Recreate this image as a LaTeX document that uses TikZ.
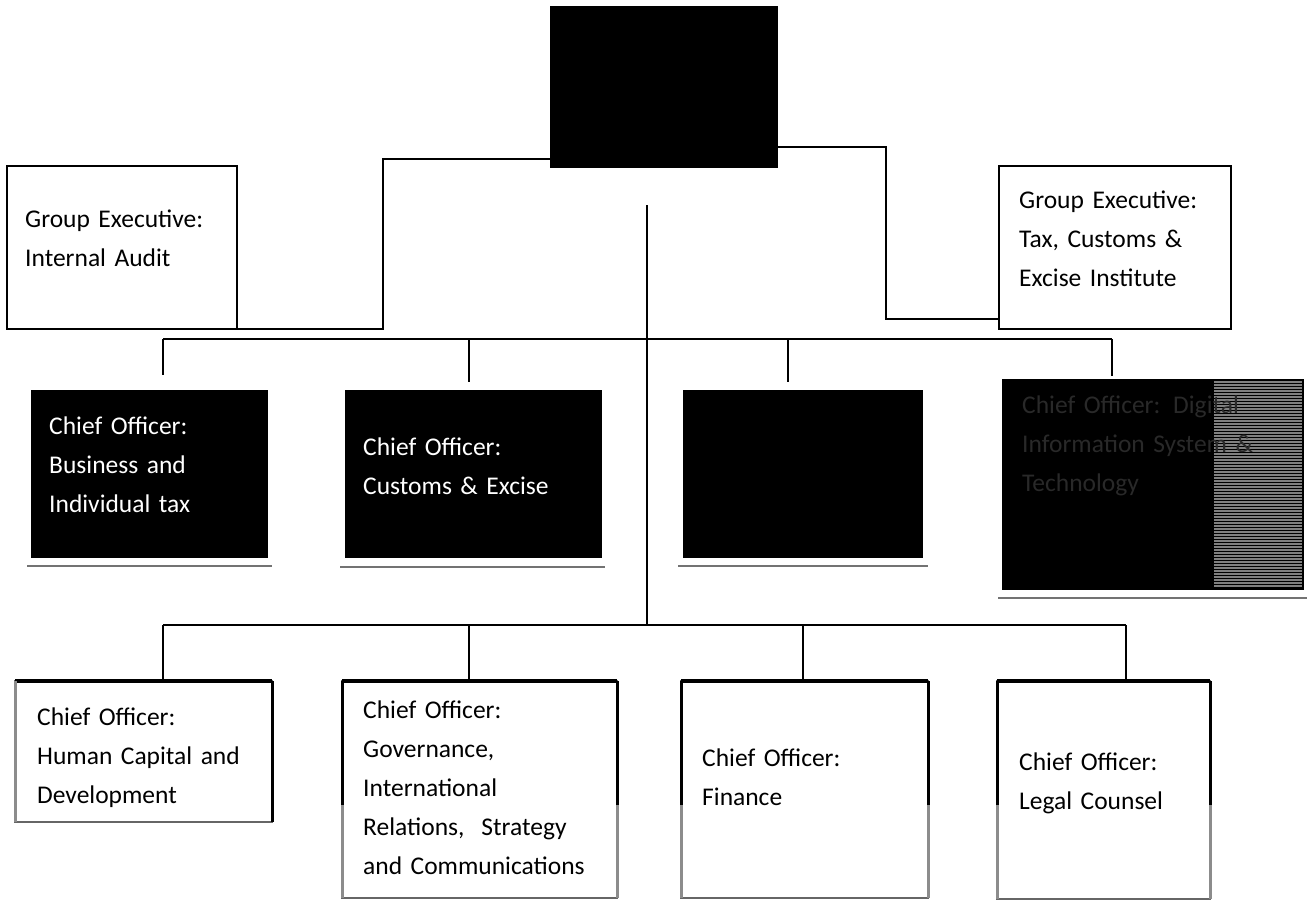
\documentclass[tikz,border=0pt]{standalone}
\usepackage{fontspec}
\setmainfont{Carlito}
\usetikzlibrary{calc}
\begin{document}
\begin{tikzpicture}[x=1pt,y=-1pt,
  box/.style={draw, line width=1.6pt, anchor=north west, inner sep=0pt, outer sep=0pt},
  blk/.style={box, fill=black},
  lbl/.style={anchor=base west, inner sep=0pt, align=left, text width=290pt, font=\fontsize{25.5}{39}\selectfont},
  wire/.style={line width=1.8pt},
  uline/.style={line width=1.4pt, black!55},
  thicktop/.style={line width=4pt},
  side/.style={line width=3pt},
  hatchside/.style={line width=3pt, black!45},
]
\useasboundingbox (0,0) rectangle (1308,900);

% top row
\node[blk, minimum width=226pt, minimum height=160pt] (top) at (551,7) {};
\node[box, minimum width=230pt, minimum height=163pt] (ia) at (7,166) {};
\node[box, minimum width=232pt, minimum height=163pt] (tax) at (999,166) {};
\node[lbl] (iat) at (25,227) {Group Executive:\\Internal Audit};
\node[lbl] (taxt) at (1019,208) {Group Executive:\\Tax, Customs \&\\Excise Institute};

% second row
\node[blk, minimum width=235pt, minimum height=166pt] (bit) at (32,391) {};
\node[blk, minimum width=255pt, minimum height=166pt] (cus) at (346,391) {};
\node[blk, minimum width=238pt, minimum height=166pt] (blank) at (684,391) {};
\node[blk, minimum width=300pt, minimum height=209pt] (dig) at (1003,380) {};
\foreach \yy in {382,385,...,587} \draw[black!50, line width=1.4pt] (1214,\yy) -- (1302,\yy);
\node[lbl, text=white] (bitt) at (49,434) {Chief Officer:\\Business and\\Individual tax};
\node[lbl, text=white] (cust) at (363,455) {Chief Officer:\\Customs \& Excise};
\node[lbl, text=black!84] (digt) at (1022,413) {Chief Officer: Digital\\Information System \&\\Technology};
\draw[uline] (27,566) -- (272,566);
\draw[uline] (340,567) -- (605,567);
\draw[uline] (678,566) -- (928,566);
\draw[uline] (998,598) -- (1307,598);

% bottom row
\node[box, draw=black!60, line width=1.4pt, minimum width=257pt, minimum height=141pt] (hum) at (15,681) {};
\node[box, draw=black!60, line width=1.4pt, minimum width=275pt, minimum height=217pt] (gov) at (342,681) {};
\node[box, draw=black!60, line width=1.4pt, minimum width=247pt, minimum height=217pt] (fin) at (681,681) {};
\node[box, draw=black!60, line width=1.4pt, minimum width=213pt, minimum height=218pt] (leg) at (997,681) {};
% heavy borders
\draw[thicktop] (hum.north west) -- (hum.north east);
\draw[hatchside] (hum.north west) -- (hum.south west);
\draw[side] (hum.north east) -- (hum.south east);
\foreach \b in {gov,fin,leg}{
  \draw[thicktop] (\b.north west) -- (\b.north east);
  \draw[side] (\b.north west) -- ++(0,124) coordinate (\b-lw);
  \draw[hatchside] (\b-lw) -- (\b.south west);
  \draw[side] (\b.north east) -- ++(0,124) coordinate (\b-le);
  \draw[hatchside] (\b-le) -- (\b.south east);
}
\node[lbl] (humt) at (37,725) {Chief Officer:\\Human Capital and\\Development};
\node[lbl] (govt) at (363,718) {Chief Officer:\\Governance,\\International\\Relations,~ Strategy\\and Communications};
\node[lbl] (fint) at (702,766) {Chief Officer:\\Finance};
\node[lbl] (legt) at (1019,770) {Chief Officer:\\Legal Counsel};

% connectors
\coordinate (la) at (383,159);
\coordinate (lb) at (383,329);
\draw[wire] (top.west |- la) -- (la) -- (lb) -- (ia.south east);
\coordinate (ra) at (886,147);
\coordinate (rb) at (886,319);
\draw[wire] (top.east |- ra) -- (ra) -- (rb) -- (tax.west |- rb);
\coordinate (c0) at (647,205);
\coordinate (c1) at (647,625);
\draw[wire] (c0) -- (c1);

% second-row bus
\coordinate (b1) at (163,339);
\coordinate (b2) at (469,339);
\coordinate (b3) at (788,339);
\coordinate (b4) at (1112,339);
\draw[line width=2.2pt] (b1) -- (b4);
\draw[wire] (b1) -- (163,375) coordinate (d1);
\draw[wire] (b2) -- (469,382) coordinate (d2);
\draw[wire] (b3) -- (788,382) coordinate (d3);
\draw[wire] (b4) -- (1112,376) coordinate (d4);

% bottom bus
\coordinate (e1) at (163,625);
\coordinate (e2) at (469,625);
\coordinate (e3) at (803,625);
\coordinate (e4) at (1126,625);
\draw[wire] (e1) -- (e4);
\draw[wire] (e1) -- (e1 |- hum.north);
\draw[wire] (e2) -- (e2 |- gov.north);
\draw[wire] (e3) -- (e3 |- fin.north);
\draw[wire] (e4) -- (e4 |- leg.north);
\end{tikzpicture}
\end{document}
